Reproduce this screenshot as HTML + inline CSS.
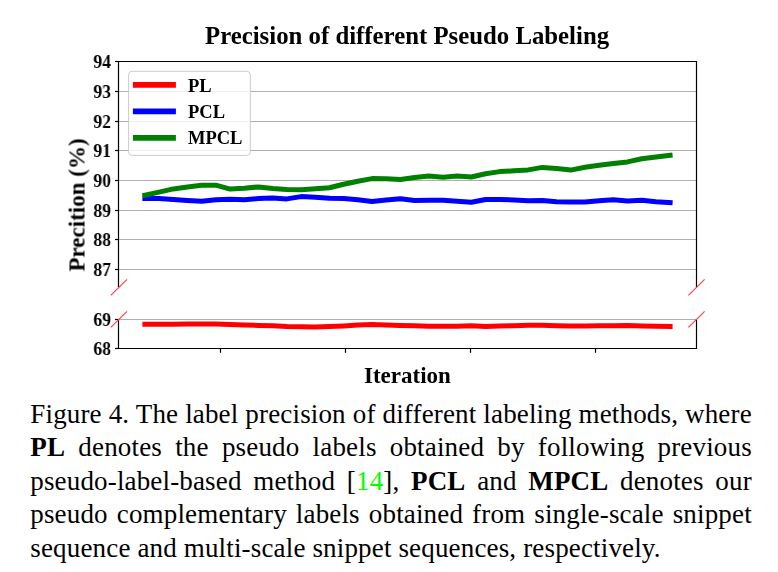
<!DOCTYPE html>
<html><head><meta charset="utf-8"><style>
html,body{margin:0;padding:0;background:#fff;width:778px;height:572px;overflow:hidden;position:relative}
.t{position:absolute;font-family:"Liberation Serif",serif;white-space:nowrap;color:#000;line-height:1;will-change:transform}
.b{font-weight:bold}
.yt{font-size:19px;font-weight:bold;text-align:right;width:40px;transform:scaleX(0.93);transform-origin:100% 50%}
.cap{position:absolute;left:30.3px;width:721.5px;font-family:"Liberation Serif",serif;font-size:27px;line-height:33.45px;text-align:justify;color:#000}
.ln{height:33.45px;white-space:nowrap;text-align:justify;text-align-last:justify;letter-spacing:0.16px} .ln.last{text-align-last:left}
</style></head><body>
<svg width="778" height="572" viewBox="0 0 778 572" style="position:absolute;left:0;top:0">
<line x1="118.5" y1="91.5" x2="696.5" y2="91.5" stroke="#b0b0b0" stroke-width="1"/>
<line x1="118.5" y1="121.5" x2="696.5" y2="121.5" stroke="#b0b0b0" stroke-width="1"/>
<line x1="118.5" y1="150.5" x2="696.5" y2="150.5" stroke="#b0b0b0" stroke-width="1"/>
<line x1="118.5" y1="180.5" x2="696.5" y2="180.5" stroke="#b0b0b0" stroke-width="1"/>
<line x1="118.5" y1="210.5" x2="696.5" y2="210.5" stroke="#b0b0b0" stroke-width="1"/>
<line x1="118.5" y1="239.5" x2="696.5" y2="239.5" stroke="#b0b0b0" stroke-width="1"/>
<line x1="118.5" y1="269.5" x2="696.5" y2="269.5" stroke="#b0b0b0" stroke-width="1"/>
<line x1="118.5" y1="319.5" x2="696.5" y2="319.5" stroke="#b0b0b0" stroke-width="1"/>
<polyline points="144.90,324.30 159.09,324.20 173.29,324.20 187.48,324.00 201.68,323.90 215.87,323.90 230.07,324.50 244.26,324.90 258.46,325.40 272.65,325.80 286.85,326.50 301.04,326.70 315.24,326.90 329.43,326.50 343.62,325.90 357.82,325.00 372.01,324.60 386.21,324.90 400.40,325.40 414.60,325.70 428.79,326.30 442.99,326.30 457.18,326.30 471.38,325.70 485.57,326.40 499.76,326.10 513.96,325.70 528.15,325.30 542.35,325.30 556.54,325.70 570.74,325.90 584.93,325.90 599.13,325.80 613.32,325.70 627.52,325.60 641.71,326.00 655.91,326.30 670.10,326.40" fill="none" stroke="#ff0000" stroke-width="5" stroke-linejoin="round" stroke-linecap="square"/>
<polyline points="144.90,198.40 159.09,198.40 173.29,199.40 187.48,200.40 201.68,201.20 215.87,199.70 230.07,199.20 244.26,199.70 258.46,198.60 272.65,197.90 286.85,198.90 301.04,196.60 315.24,197.30 329.43,198.20 343.62,198.40 357.82,199.80 372.01,201.60 386.21,199.90 400.40,198.80 414.60,200.40 428.79,200.30 442.99,200.30 457.18,201.30 471.38,202.20 485.57,199.50 499.76,199.50 513.96,200.00 528.15,200.80 542.35,200.40 556.54,201.80 570.74,202.00 584.93,202.00 599.13,200.70 613.32,199.70 627.52,201.00 641.71,200.30 655.91,201.80 670.10,202.60" fill="none" stroke="#0000ff" stroke-width="5" stroke-linejoin="round" stroke-linecap="square"/>
<polyline points="144.90,195.20 159.09,192.10 173.29,188.90 187.48,187.00 201.68,185.20 215.87,185.20 230.07,189.10 244.26,188.20 258.46,186.90 272.65,188.50 286.85,189.40 301.04,189.70 315.24,188.70 329.43,187.80 343.62,184.30 357.82,181.20 372.01,178.60 386.21,178.70 400.40,179.40 414.60,177.40 428.79,176.10 442.99,177.20 457.18,176.10 471.38,177.00 485.57,173.80 499.76,171.60 513.96,170.80 528.15,169.90 542.35,167.40 556.54,168.60 570.74,170.10 584.93,167.30 599.13,165.20 613.32,163.60 627.52,161.90 641.71,158.80 655.91,156.90 670.10,155.20" fill="none" stroke="#008000" stroke-width="5" stroke-linejoin="round" stroke-linecap="square"/>
<path d="M118.5,287.3 L118.5,61.5 L696.5,61.5 L696.5,287.3" fill="none" stroke="#000" stroke-width="1.2"/>
<path d="M118.5,319.3 L118.5,348.5 L696.5,348.5 L696.5,319.3" fill="none" stroke="#000" stroke-width="1.2"/>
<line x1="115" y1="61.5" x2="118.5" y2="61.5" stroke="#000" stroke-width="1.2"/>
<line x1="115" y1="91.5" x2="118.5" y2="91.5" stroke="#000" stroke-width="1.2"/>
<line x1="115" y1="121.5" x2="118.5" y2="121.5" stroke="#000" stroke-width="1.2"/>
<line x1="115" y1="150.5" x2="118.5" y2="150.5" stroke="#000" stroke-width="1.2"/>
<line x1="115" y1="180.5" x2="118.5" y2="180.5" stroke="#000" stroke-width="1.2"/>
<line x1="115" y1="210.5" x2="118.5" y2="210.5" stroke="#000" stroke-width="1.2"/>
<line x1="115" y1="239.5" x2="118.5" y2="239.5" stroke="#000" stroke-width="1.2"/>
<line x1="115" y1="269.5" x2="118.5" y2="269.5" stroke="#000" stroke-width="1.2"/>
<line x1="115" y1="319.5" x2="118.5" y2="319.5" stroke="#000" stroke-width="1.2"/>
<line x1="115" y1="348.5" x2="118.5" y2="348.5" stroke="#000" stroke-width="1.2"/>
<line x1="220.5" y1="348.5" x2="220.5" y2="352.8" stroke="#000" stroke-width="1.2"/>
<line x1="345.5" y1="348.5" x2="345.5" y2="352.8" stroke="#000" stroke-width="1.2"/>
<line x1="470.5" y1="348.5" x2="470.5" y2="352.8" stroke="#000" stroke-width="1.2"/>
<line x1="595.5" y1="348.5" x2="595.5" y2="352.8" stroke="#000" stroke-width="1.2"/>
<line x1="110.80000000000001" y1="295.3" x2="127.0" y2="279.3" stroke="#ff4040" stroke-width="1.15"/>
<line x1="110.80000000000001" y1="327.3" x2="127.0" y2="311.3" stroke="#ff4040" stroke-width="1.15"/>
<line x1="688.4" y1="295.3" x2="704.6" y2="279.3" stroke="#ff4040" stroke-width="1.15"/>
<line x1="688.4" y1="327.3" x2="704.6" y2="311.3" stroke="#ff4040" stroke-width="1.15"/>
<rect x="128.6" y="71.3" width="121.7" height="84.1" rx="3.5" ry="3.5" fill="#ffffff" fill-opacity="0.8" stroke="#cccccc" stroke-width="1"/>
<line x1="132.9" y1="84.8" x2="175.9" y2="84.8" stroke="#ff0000" stroke-width="5.8"/>
<line x1="132.9" y1="111.45" x2="175.9" y2="111.45" stroke="#0000ff" stroke-width="5.8"/>
<line x1="132.9" y1="137.9" x2="175.9" y2="137.9" stroke="#008000" stroke-width="5.8"/>
</svg>
<div class="t b" style="left:205.3px;top:24.3px;font-size:24.8px">Precision of different Pseudo Labeling</div>
<div class="t yt" style="left:71px;top:51.7px">94</div>
<div class="t yt" style="left:71px;top:81.7px">93</div>
<div class="t yt" style="left:71px;top:111.7px">92</div>
<div class="t yt" style="left:71px;top:140.7px">91</div>
<div class="t yt" style="left:71px;top:170.7px">90</div>
<div class="t yt" style="left:71px;top:200.7px">89</div>
<div class="t yt" style="left:71px;top:229.7px">88</div>
<div class="t yt" style="left:71px;top:259.7px">87</div>
<div class="t yt" style="left:71px;top:309.7px">69</div>
<div class="t yt" style="left:71px;top:338.7px">68</div>
<div class="t b" style="left:187.9px;top:76.6px;font-size:18.5px">PL</div>
<div class="t b" style="left:187.9px;top:102.6px;font-size:18.5px">PCL</div>
<div class="t b" style="left:187.9px;top:128.7px;font-size:18.5px">MPCL</div>
<div class="t b" style="left:364px;top:364.1px;font-size:23px">Iteration</div>
<div class="t b" style="left:76.6px;top:204.9px;font-size:23px;transform:translate(-50%,-50%) rotate(-90deg);transform-origin:50% 50%;">Precition (%)</div>
<div class="cap" style="top:398px">
<div class="ln">Figure 4. The label precision of different labeling methods, where</div>
<div class="ln"><b>PL</b> denotes the pseudo labels obtained by following previous</div>
<div class="ln">pseudo-label-based method [<span style="color:#00ff00">14</span>], <b>PCL</b> and <b>MPCL</b> denotes our</div>
<div class="ln">pseudo complementary labels obtained from single-scale snippet</div>
<div class="ln last">sequence and multi-scale snippet sequences, respectively.</div>
</div>
</body></html>
